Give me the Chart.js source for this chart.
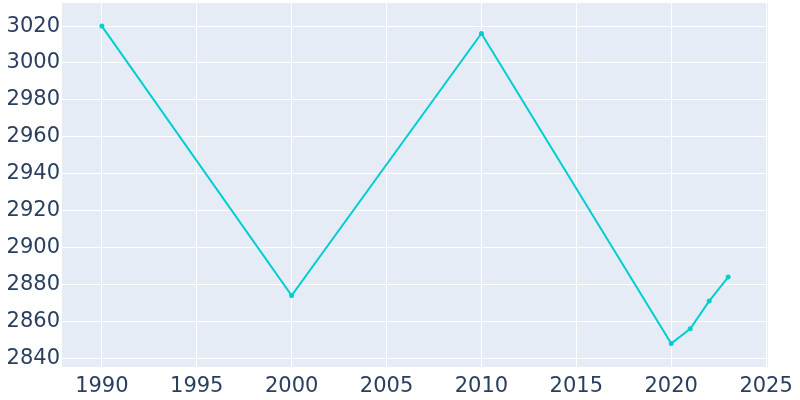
<!DOCTYPE html>
<html>
<head>
<meta charset="utf-8">
<script src="https://cdn.jsdelivr.net/npm/chart.js@4"></script>
<style>
  html, body { margin: 0; padding: 0; background: #fff; }
  #wrap { width: 800px; height: 400px; }
</style>
</head>
<body>
<div id="wrap"><canvas id="popChart" width="800" height="400"></canvas></div>
<script>
var years = [1990, 2000, 2010, 2020, 2021, 2022, 2023];
var population = [3020, 2874, 3016, 2848, 2856, 2871, 2884];
var xTicks = [1990, 1995, 2000, 2005, 2010, 2015, 2020, 2025];
var yTicks = [2840, 2860, 2880, 2900, 2920, 2940, 2960, 2980, 3000, 3020];

var plotBg = {
  id: 'plotBg',
  beforeDraw: function(chart) {
    var a = chart.chartArea, ctx = chart.ctx;
    ctx.save();
    ctx.fillStyle = '#E5ECF6';
    ctx.fillRect(a.left, a.top, a.right - a.left, a.bottom - a.top);
    ctx.restore();
  }
};

var tickFont = { family: 'DejaVu Sans', size: 21 };

var popChartConfig = {
  type: 'line',
  data: {
    datasets: [{
      data: years.map(function(y, i) { return { x: y, y: population[i] }; }),
      borderColor: '#00CED1',
      backgroundColor: '#00CED1',
      borderWidth: 2,
      pointRadius: 2.5,
      pointHoverRadius: 2.5,
      pointBorderWidth: 0,
      tension: 0
    }]
  },
  options: {
    responsive: false,
    animation: false,
    layout: { padding: { top: 3, right: 32, left: 0, bottom: 0 } },
    plugins: { legend: { display: false }, tooltip: { enabled: false } },
    scales: {
      x: {
        type: 'linear',
        min: 1987.9,
        max: 2025.1,
        afterBuildTicks: function(s) { s.ticks = xTicks.map(function(v) { return { value: v }; }); },
        afterFit: function(s) { s.height = 33; s.paddingLeft = 0; s.paddingRight = 0; },
        grid: { color: '#ffffff', lineWidth: 1, drawTicks: false },
        border: { display: false },
        ticks: { font: tickFont, color: '#2a3f5f', padding: 7, maxRotation: 0,
          callback: function(v) { return String(v); } }
      },
      y: {
        min: 2835.3,
        max: 3032.5,
        afterBuildTicks: function(s) { s.ticks = yTicks.map(function(v) { return { value: v }; }); },
        afterFit: function(s) { s.width = 62; s.paddingTop = 0; s.paddingBottom = 0; },
        grid: { color: '#ffffff', lineWidth: 1, drawTicks: false },
        border: { display: false },
        ticks: { font: tickFont, color: '#2a3f5f', padding: 2,
          callback: function(v) { return String(v); } }
      }
    }
  },
  plugins: [plotBg]
};

function createPopChart() {
  var ctx = document.getElementById('popChart').getContext('2d');
  window.popChart = new Chart(ctx, popChartConfig);
}
createPopChart();
</script>
</body>
</html>
